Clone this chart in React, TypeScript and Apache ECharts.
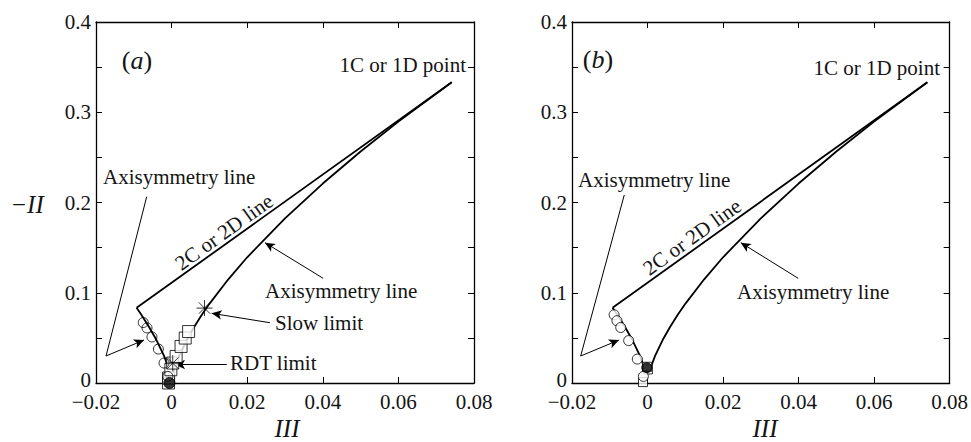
import React, { useEffect, useRef } from 'react';
import * as echarts from 'echarts';

// Tick values
const xTickValues = [-0.02, 0, 0.02, 0.04, 0.06, 0.08];
const yTickValues = [0, 0.1, 0.2, 0.3, 0.4];

// Boundary lines of the invariant map
const twoCLine = [[-0.00926, 0.0833], [0.0741, 0.3333]];
const leftAxiIII = [-0.00926, -0.008, -0.006, -0.004, -0.002, -0.001];
const leftAxiII = [0.0833, 0.0756, 0.0624, 0.0476, 0.03, 0.0189];
const rightAxiIII = [0.0005, 0.001, 0.002, 0.004, 0.006, 0.008, 0.01, 0.015, 0.02, 0.03, 0.04, 0.05, 0.06, 0.0741];
const rightAxiII = [0.0119, 0.0189, 0.03, 0.0476, 0.0624, 0.0756, 0.0877, 0.1149, 0.1393, 0.1824, 0.221, 0.2565, 0.2896, 0.3333];

// Panel (a) data
const circlesA = [[-0.0075, 0.067], [-0.0065, 0.061], [-0.0052, 0.051], [-0.0035, 0.0376], [-0.002, 0.0221], [-0.001, 0.0073]];
const squaresA = [[-0.0008, 0.0], [-0.0008, 0.0055], [-0.0002, 0.0147], [0.0003, 0.0221], [0.0012, 0.0294], [0.0025, 0.0405], [0.0036, 0.0498], [0.0045, 0.057]];
const filledA = [[-0.0006, 0.0]];
const slowLimitA = [[0.0087, 0.083]];
const rdtLimitA = [[0.0003, 0.022]];

// Panel (b) data
const circlesB = [[-0.00885, 0.0756], [-0.0081, 0.069], [-0.0071, 0.0615], [-0.005, 0.047], [-0.0027, 0.0265], [-0.0011, 0.0073]];
const squaresB = [[-0.0012, 0.001], [0.0001, 0.015], [-0.0001, 0.018]];
const filledB = [[-0.0002, 0.017]];

// Annotation arrows (data coordinates)
const arrowsA = [
  { from: [-0.00659, 0.2064], to: [-0.01735, 0.0299], head: false },
  { from: [-0.01735, 0.0299], to: [-0.0073, 0.0476], head: true },
  { from: [0.0401, 0.116], to: [0.0247, 0.1555], head: true },
  { from: [0.026, 0.0668], to: [0.0106, 0.0772], head: true },
  { from: [0.0146, 0.0207], to: [0.0009, 0.0205], head: true },
];
const arrowsB = [
  { from: [-0.00616, 0.2083], to: [-0.0177, 0.0299], head: false },
  { from: [-0.0177, 0.0299], to: [-0.00757, 0.0476], head: true },
  { from: [0.0399, 0.116], to: [0.0247, 0.1555], head: true },
];

const FONT = "'Liberation Serif', 'Times New Roman', serif";
const TXT = '#141414';
const ASTERISK = 'path://M0,-10L0,10M-10,0L10,0M-7.07,-7.07L7.07,7.07M-7.07,7.07L7.07,-7.07';

function zip(a: number[], b: number[]) {
  return a.map((v, i) => [v, b[i]]);
}

function fmtX(v: number) {
  if (Math.abs(v) < 1e-9) return '0';
  return (v < 0 ? '\u2212' : '') + Math.abs(v).toFixed(2);
}
function fmtY(v: number) {
  if (Math.abs(Math.round(v * 20)) % 2 !== 0) return '';
  if (Math.abs(v) < 1e-9) return '{z|0}';
  return v.toFixed(1);
}

export default function App() {
  const ref = useRef<HTMLDivElement>(null);
  useEffect(() => {
    document.body.style.margin = '0';
    if (!ref.current) return;
    const chart = echarts.init(ref.current, undefined, { renderer: 'svg' });

    const grids = [
      { left: 96, top: 22, width: 378, height: 361 },
      { left: 572, top: 22, width: 378, height: 361 },
    ];
    const axisLine = { show: true, onZero: false, lineStyle: { color: '#000', width: 1.3 } };
    const tick = { show: true, inside: true, length: 6, lineStyle: { color: '#000', width: 1 } };
    const xAxes: any[] = [];
    const yAxes: any[] = [];
    [0, 1].forEach((g) => {
      xAxes.push({
        type: 'value', gridIndex: g, min: -0.02, max: 0.08, interval: 0.02, position: 'bottom',
        axisLine, axisTick: tick, splitLine: { show: false },
        axisLabel: { formatter: fmtX, fontFamily: FONT, fontSize: 21, lineHeight: 14, color: TXT, margin: 12 },
      });
      xAxes.push({
        type: 'value', gridIndex: g, min: -0.02, max: 0.08, interval: 0.02, position: 'top',
        axisLine, axisTick: tick, splitLine: { show: false }, axisLabel: { show: false },
      });
      yAxes.push({
        type: 'value', gridIndex: g, min: 0, max: 0.4, interval: 0.05, position: 'left',
        axisLine, axisTick: tick, splitLine: { show: false },
        axisLabel: {
          formatter: fmtY, fontFamily: FONT, fontSize: 21, lineHeight: 12, color: TXT, margin: 5,
          rich: { z: { fontFamily: FONT, fontSize: 21, lineHeight: 12, color: TXT, padding: [0, 0, 6, 0] } },
        },
      });
      yAxes.push({
        type: 'value', gridIndex: g, min: 0, max: 0.4, interval: 0.05, position: 'right',
        axisLine, axisTick: tick, splitLine: { show: false }, axisLabel: { show: false },
      });
    });

    const lineSeries = (g: number, data: number[][], extra: any = {}) => ({
      type: 'line', xAxisIndex: g * 2, yAxisIndex: g * 2, data, symbol: 'none',
      lineStyle: { color: '#000', width: 1.8 }, silent: true, z: 2, ...extra,
    });
    const markLineFor = (arrows: any[]) => ({
      silent: true,
      animation: false,
      label: { show: false },
      lineStyle: { color: '#000', width: 1, type: 'solid' },
      emphasis: { disabled: true },
      data: arrows.map((a) => [
        { coord: a.from, symbol: 'none' },
        { coord: a.to, symbol: a.head ? 'arrow' : 'none', symbolSize: [7, 10] },
      ]),
    });
    const scatter = (g: number, data: number[][], symbol: string, size: number, item: any, z = 5) => ({
      type: 'scatter', xAxisIndex: g * 2, yAxisIndex: g * 2, data, symbol, symbolSize: size,
      itemStyle: item, silent: true, z,
    });

    const series: any[] = [
      lineSeries(0, twoCLine, { markLine: markLineFor(arrowsA) }),
      lineSeries(0, zip(leftAxiIII, leftAxiII)),
      lineSeries(0, zip(rightAxiIII, rightAxiII)),
      lineSeries(1, twoCLine, { markLine: markLineFor(arrowsB) }),
      lineSeries(1, zip(leftAxiIII, leftAxiII)),
      lineSeries(1, zip(rightAxiIII, rightAxiII)),
      // panel (a)
      scatter(0, squaresA, 'rect', 12, { color: '#fff', borderColor: '#000', borderWidth: 1 }, 5),
      scatter(0, circlesA, 'circle', 10, { color: 'transparent', borderColor: '#000', borderWidth: 1 }, 6),
      scatter(0, filledA, 'circle', 11, { color: '#000', borderColor: '#000', borderWidth: 1 }, 7),
      scatter(0, slowLimitA, ASTERISK, 16, { color: 'transparent', borderColor: '#000', borderWidth: 1 }, 8),
      scatter(0, rdtLimitA, ASTERISK, 16, { color: 'transparent', borderColor: '#000', borderWidth: 1 }, 8),
      // panel (b)
      scatter(1, squaresB, 'rect', 9, { color: '#fff', borderColor: '#000', borderWidth: 1 }, 5),
      scatter(1, circlesB, 'circle', 10, { color: '#fff', borderColor: '#000', borderWidth: 1 }, 6),
      scatter(1, filledB, 'circle', 10, { color: '#000', borderColor: '#000', borderWidth: 1 }, 7),
    ];

    const t = (text: string, x: number, y: number, align = 'left', extra: any = {}) => ({
      type: 'text', x, y, silent: true, z: 100,
      style: { text, fontFamily: FONT, fontSize: 21, fill: TXT, align, verticalAlign: 'middle', ...extra },
    });
    const label = (letter: string, x: number, y: number) => ({
      type: 'text', x, y, silent: true, z: 100,
      style: {
        text: '{n|(}{i|' + letter + '}{n|)}', align: 'center', verticalAlign: 'middle',
        rich: {
          n: { fontFamily: FONT, fontSize: 26, fill: TXT, color: TXT },
          i: { fontFamily: FONT, fontSize: 26, fontStyle: 'italic', fill: TXT, color: TXT },
        },
      },
    });
    const rot = Math.atan2(226, 315);

    const graphic: any[] = [
      label('a', 137, 60),
      t('1C or 1D point', 466, 65, 'right'),
      t('Axisymmetry line', 103, 177),
      t('Axisymmetry line', 265, 291),
      t('Slow limit', 275, 323),
      t('RDT limit', 230, 363),
      { ...t('2C or 2D line', 224, 232, 'center'), rotation: rot },
      label('b', 598, 59),
      t('1C or 1D point', 940, 68, 'right'),
      t('Axisymmetry line', 578, 180),
      t('Axisymmetry line', 737, 292),
      { ...t('2C or 2D line', 692, 237, 'center'), rotation: rot },
      t('\u2212II', 27, 204, 'center', { fontSize: 25, fontStyle: 'italic' }),
      t('III', 287, 428, 'center', { fontSize: 25, lineHeight: 22, fontStyle: 'italic' }),
      t('III', 765, 428, 'center', { fontSize: 25, lineHeight: 22, fontStyle: 'italic' }),
    ];

    chart.setOption({
      animation: false,
      backgroundColor: '#fff',
      grid: grids,
      xAxis: xAxes,
      yAxis: yAxes,
      series,
      graphic,
    });
    return () => chart.dispose();
  }, []);
  return <div ref={ref} style={{ width: 971, height: 442 }} />;
}
